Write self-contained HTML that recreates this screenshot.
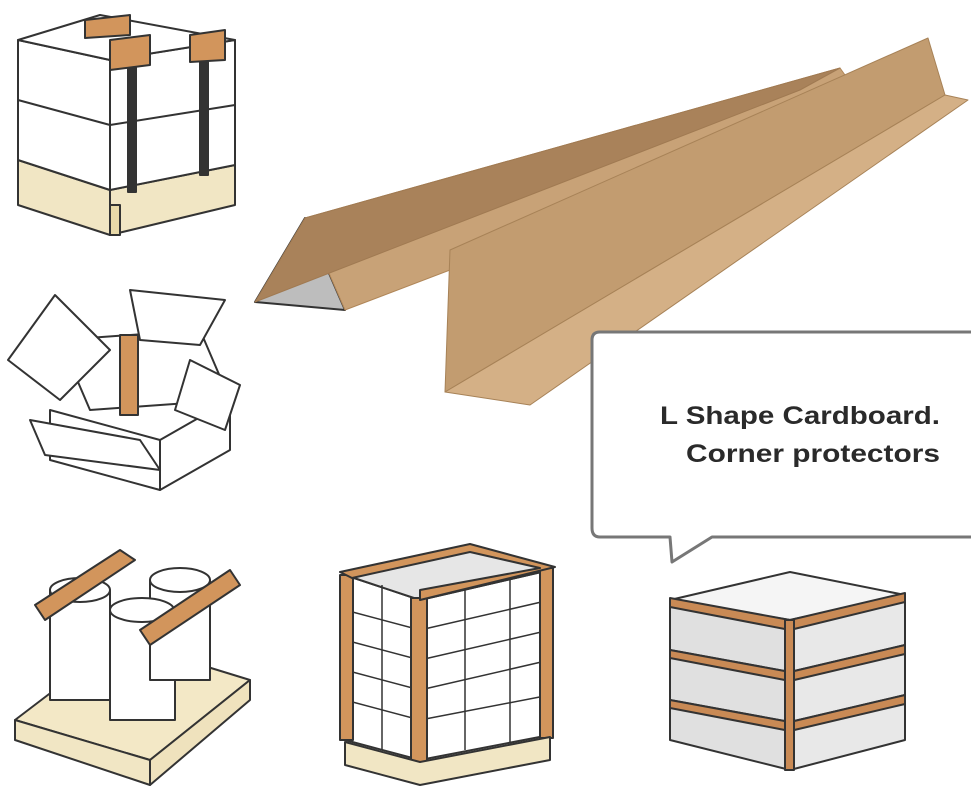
<!DOCTYPE html>
<html><head><style>
html,body{margin:0;padding:0;background:#fff;}
svg{display:block;}
text{font-family:"Liberation Sans",sans-serif;font-weight:bold;fill:#2a2a2a;}
</style></head><body>
<svg width="971" height="800" viewBox="0 0 971 800" xmlns="http://www.w3.org/2000/svg">
<g stroke="#333" stroke-width="2" stroke-linejoin="round">
<!-- top-left box on pallet -->
<polygon points="18,160 110,190 110,235 18,205" fill="#f1e6c4"/>
<polygon points="110,190 235,165 235,205 110,235" fill="#f1e6c4"/>
<polygon points="18,40 110,60 110,190 18,160" fill="#fff"/>
<polygon points="110,60 235,40 235,165 110,190" fill="#fff"/>
<polygon points="18,40 100,15 235,40 110,60" fill="#fff"/>
<line x1="18" y1="100" x2="110" y2="125"/><line x1="110" y1="125" x2="235" y2="105"/>
<rect x="128" y="52" width="8" height="140" fill="#333"/>
<rect x="200" y="45" width="8" height="130" fill="#333"/>
<polygon points="110,40 150,35 150,65 110,70" fill="#d2955c"/>
<polygon points="190,35 225,30 225,60 190,62" fill="#d2955c"/>
<polygon points="85,20 130,15 130,35 85,38" fill="#d2955c"/>
<polygon points="110,235 120,235 120,205 110,205" fill="#e8d9a8"/>
<!-- open box -->
<polygon points="50,410 160,440 160,490 50,460" fill="#fff"/>
<polygon points="160,440 230,400 230,450 160,490" fill="#fff"/>
<polygon points="60,340 200,330 230,400 90,410" fill="#fff"/>
<polygon points="8,360 55,295 110,350 60,400" fill="#fff"/>
<polygon points="130,290 225,300 200,345 140,340" fill="#fff"/>
<polygon points="30,420 140,440 160,470 45,455" fill="#fff"/>
<polygon points="190,360 240,385 225,430 175,410" fill="#fff"/>
<rect x="120" y="335" width="18" height="80" fill="#d2955c"/>
<!-- rolls on pallet -->
<polygon points="15,720 150,760 250,680 120,640" fill="#f3e8c6"/>
<polygon points="15,720 15,740 150,785 150,760" fill="#f1e6c4"/>
<polygon points="150,760 250,680 250,700 150,785" fill="#efe2bd"/>
<rect x="50" y="590" width="60" height="110" fill="#fff"/>
<rect x="110" y="610" width="65" height="110" fill="#fff"/>
<rect x="150" y="580" width="60" height="100" fill="#fff"/>
<ellipse cx="80" cy="590" rx="30" ry="12" fill="#fff"/>
<ellipse cx="142" cy="610" rx="32" ry="12" fill="#fff"/>
<ellipse cx="180" cy="580" rx="30" ry="12" fill="#fff"/>
<polygon points="35,605 120,550 135,560 45,620" fill="#d2955c"/>
<polygon points="140,630 230,570 240,585 150,645" fill="#d2955c"/>
<!-- middle box -->
<polygon points="345,575 420,600 420,760 345,740" fill="#fff"/>
<polygon points="420,600 550,570 550,735 420,760" fill="#fff"/>
<polygon points="345,575 470,548 550,570 420,600" fill="#e6e6e6"/>
<g stroke-width="1.5">
<line x1="420" y1="630" x2="550" y2="600"/><line x1="420" y1="660" x2="550" y2="630"/><line x1="420" y1="690" x2="550" y2="660"/><line x1="420" y1="720" x2="550" y2="695"/>
<line x1="345" y1="610" x2="420" y2="630"/><line x1="345" y1="640" x2="420" y2="660"/><line x1="345" y1="670" x2="420" y2="690"/><line x1="345" y1="700" x2="420" y2="720"/>
<line x1="465" y1="590" x2="465" y2="750"/><line x1="510" y1="580" x2="510" y2="742"/><line x1="382" y1="585" x2="382" y2="750"/>
</g>
<rect x="411" y="598" width="16" height="165" fill="#d2955c"/>
<rect x="340" y="575" width="13" height="165" fill="#d2955c"/>
<rect x="540" y="568" width="13" height="170" fill="#d2955c"/>
<polygon points="340,572 470,544 555,567 420,600 420,590 540,568 470,552 352,578" fill="#d2955c"/>
<polygon points="345,742 420,762 550,737 550,760 420,785 345,765" fill="#f1e6c4"/>
<!-- stacked boards right -->
<polygon points="670,600 790,620 790,770 670,740" fill="#e0e0e0"/>
<polygon points="790,620 905,595 905,740 790,770" fill="#e8e8e8"/>
<polygon points="670,600 790,572 905,595 790,620" fill="#f5f5f5"/>
<line x1="670" y1="650" x2="790" y2="672"/><line x1="670" y1="700" x2="790" y2="722"/>
<line x1="790" y1="672" x2="905" y2="645"/><line x1="790" y1="722" x2="905" y2="695"/>
<polygon points="670,598 790,620 905,593 905,602 790,630 670,607" fill="#c98a55"/>
<polygon points="670,650 790,672 905,645 905,654 790,681 670,658" fill="#c98a55"/>
<polygon points="670,700 790,722 905,695 905,704 790,731 670,708" fill="#c98a55"/>
<rect x="785" y="620" width="9" height="150" fill="#c98a55"/>
<!-- corner protectors -->
<polygon points="255,302 305,218 345,310" fill="#bdbdbd"/>
<polygon points="305,218 840,68 870,110 345,310" fill="#c8a277" stroke="#b08658" stroke-width="1"/>
<polygon points="255,302 305,218 840,68 800,90" fill="#a9825a" stroke="#a07a52" stroke-width="1"/>
<polygon points="450,250 928,38 945,95 445,392" fill="#c29c70" stroke="#a78257" stroke-width="1"/>
<polygon points="445,392 945,95 968,100 530,405" fill="#d4b086" stroke="#a78257" stroke-width="1"/>
<!-- speech bubble -->
<path d="M600,332 H975 V537 H712 L672,562 L670,537 H600 Q592,537 592,528 V340 Q592,332 600,332 Z" fill="#fff" stroke="#777" stroke-width="3"/>
</g>
<text x="660" y="424" font-size="25" textLength="280" lengthAdjust="spacingAndGlyphs">L Shape Cardboard.</text>
<text x="686" y="462" font-size="25" textLength="254" lengthAdjust="spacingAndGlyphs">Corner protectors</text>
</svg>
</body></html>
